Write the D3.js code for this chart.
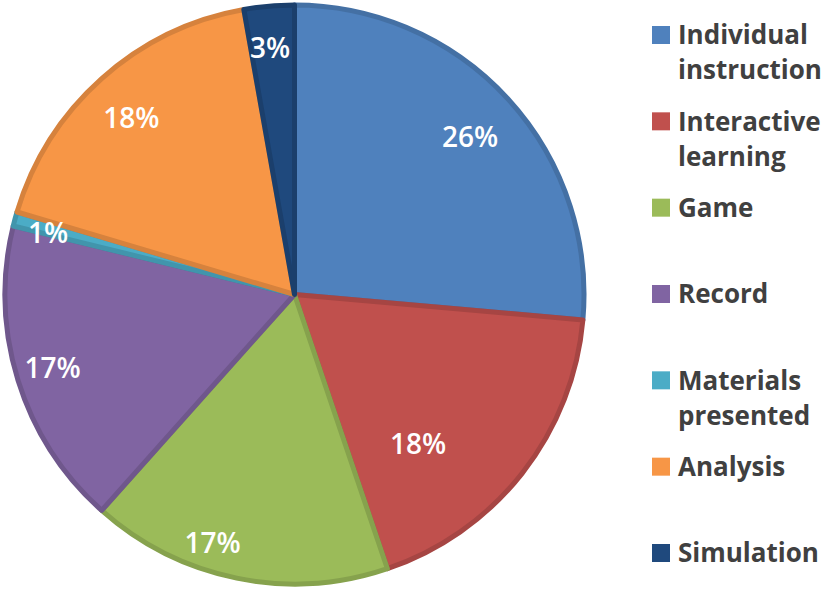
<!DOCTYPE html>
<html>
<head>
<meta charset="utf-8">
<script src="https://cdn.jsdelivr.net/npm/d3@7"></script>
<style>
  body { margin: 0; background: #fff; }
  svg { display: block; }
</style>
</head>
<body>
<svg id="chart" width="827" height="591"></svg>
<script>
// -------------------- DATA -------------------- //
const categories = ["Individual instruction", "Interactive learning", "Game", "Record",
    "Materials presented", "Analysis", "Simulation"];
const shares = [26.4, 18.4, 16.8, 17.2, 0.8, 17.6, 2.8];
const labels = ["26%", "18%", "17%", "17%", "1%", "18%", "3%"];
const legendLines = [["Individual", "instruction"], ["Interactive", "learning"], ["Game"], ["Record"],
    ["Materials", "presented"], ["Analysis"], ["Simulation"]];
const colors = ["#4F81BD", "#C0504D", "#9BBB59", "#8064A2", "#4BACC6", "#F79646", "#1F497D"];

// label nudges (excel "best fit" placement)
let nudges = [[-5, 8], [-69, -2], [-33, 8], [-8, 1], [-10, 2], [0, 6], [-3, -3]];

// -------------------- PIE -------------------- //
let svg = d3.select("#chart");
let cx = 294.5, cy = 294.5, R = 289.5;

let pie = d3.pie().sort(null).value(d => d);
let arcs = pie(shares);
let arc = d3.arc().innerRadius(0).outerRadius(R);
let labelArc = d3.arc().innerRadius(245).outerRadius(245);

let g = svg.append("g").attr("transform", `translate(${cx},${cy})`);

g.selectAll("path.slice")
    .data(arcs)
    .join("path")
    .attr("class", "slice")
    .attr("d", arc)
    .attr("fill", (d, i) => colors[i])
    .attr("stroke", (d, i) => d3.color(colors[i]).darker(0.4))
    .attr("stroke-width", 5)
    .attr("stroke-linejoin", "round");

g.selectAll("text.lbl")
    .data(arcs)
    .join("text")
    .attr("class", "lbl")
    .attr("x", (d, i) => labelArc.centroid(d)[0] + nudges[i][0])
    .attr("y", (d, i) => labelArc.centroid(d)[1] + nudges[i][1])
    .attr("dy", "0.36em")
    .attr("text-anchor", "middle")
    .attr("fill", "#fff")
    .attr("font-family", "'Open Sans', sans-serif")
    .attr("font-size", 28)
    .attr("font-weight", 600)
    .text((d, i) => labels[i]);

// -------------------- LEGEND -------------------- //
let legendY = d3.scalePoint().domain(categories).range([35, 553]);

let items = svg.selectAll("g.leg")
    .data(categories)
    .join("g")
    .attr("class", "leg")
    .attr("transform", d => `translate(652,${legendY(d)})`);

items.append("rect")
    .attr("x", 0).attr("y", -9)
    .attr("width", 18).attr("height", 18)
    .attr("fill", (d, i) => colors[i]);

items.append("text")
    .attr("x", 26)
    .attr("fill", "#404040")
    .attr("font-family", "'Open Sans', sans-serif")
    .attr("font-size", 26)
    .attr("font-weight", 700)
    .selectAll("tspan")
    .data((d, i) => legendLines[i])
    .join("tspan")
    .attr("x", 26)
    .attr("y", (d, j) => j * 35)
    .attr("dy", "0.36em")
    .text(d => d);
</script>
</body>
</html>
